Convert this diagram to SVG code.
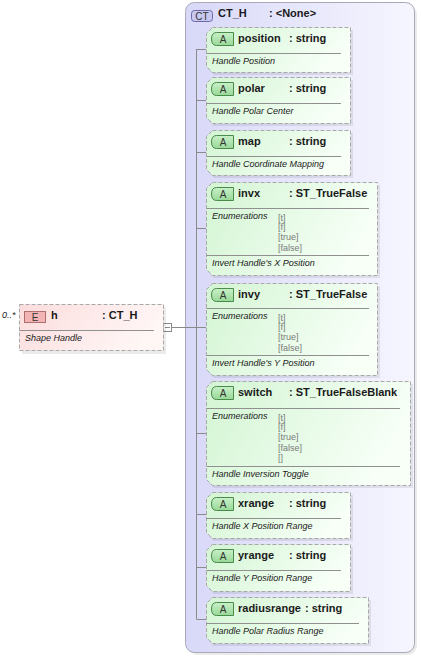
<svg xmlns="http://www.w3.org/2000/svg" width="421" height="656" viewBox="0 0 421 656">
<style>
text{font-family:"Liberation Sans",Arial,sans-serif;fill:#1a1a1a}
.nm{font-size:11px;font-weight:bold}
.ds{font-size:9px;font-style:italic}
.en{font-size:9px;fill:#7a7a7a}
.bd{font-size:10px;fill:#333}
.box{fill:url(#gA);stroke:#a8a8a8;stroke-width:1;stroke-dasharray:4,2}
.sh{fill:#000;opacity:0.08}
.sep{stroke:#909090;stroke-width:1}
.con{stroke:#8a8a8a;stroke-width:1;fill:none}
.ab{fill:url(#gB);stroke:#4a8a4a;stroke-width:1}
</style>
<defs>
<linearGradient id="gA" x1="0" y1="0" x2="1" y2="0.3"><stop offset="0" stop-color="#d3f5d3"/><stop offset="1" stop-color="#f7fff7"/></linearGradient>
<linearGradient id="gB" x1="0" y1="0" x2="0" y2="1"><stop offset="0" stop-color="#c8f0c8"/><stop offset="1" stop-color="#98d898"/></linearGradient>
<linearGradient id="gC" x1="0" y1="0" x2="1" y2="0"><stop offset="0" stop-color="#d8d8f8"/><stop offset="1" stop-color="#f6f6ff"/></linearGradient>
<linearGradient id="gE" x1="0" y1="0" x2="1" y2="0.3"><stop offset="0" stop-color="#fcdcdc"/><stop offset="1" stop-color="#fff6f6"/></linearGradient>
</defs>

<g id="ct">
<rect x="188" y="5" width="229" height="650" rx="9" class="sh"/>
<rect x="185.5" y="2.5" width="229" height="650" rx="9" fill="url(#gC)" stroke="#a8a8b8"/>
<rect x="191.5" y="10.5" width="21" height="11" rx="3" fill="#c8c8f0" stroke="#6a6aa8"/>
<text x="202" y="19.5" class="bd" text-anchor="middle">CT</text>
<text x="218" y="17" class="nm">CT_H</text>
<text x="269" y="17" class="nm">: &lt;None&gt;</text>
</g>

<g id="connectors">
<line x1="196.5" y1="49" x2="196.5" y2="619" class="con"/>
<line x1="196.5" y1="49.5" x2="206" y2="49.5" class="con"/>
<line x1="196.5" y1="100.5" x2="206" y2="100.5" class="con"/>
<line x1="196.5" y1="152.5" x2="206" y2="152.5" class="con"/>
<line x1="196.5" y1="228.5" x2="206" y2="228.5" class="con"/>
<line x1="172" y1="327.5" x2="206" y2="327.5" class="con"/>
<line x1="196.5" y1="433.5" x2="206" y2="433.5" class="con"/>
<line x1="196.5" y1="514.5" x2="206" y2="514.5" class="con"/>
<line x1="196.5" y1="567.5" x2="206" y2="567.5" class="con"/>
<line x1="196.5" y1="619.5" x2="206" y2="619.5" class="con"/>
<rect x="163.5" y="323.5" width="8" height="8" fill="#fff" stroke="#8a8a8a"/>
<line x1="165" y1="327.5" x2="170" y2="327.5" stroke="#8a8a8a"/>
</g>

<g id="h">
<rect x="22" y="307" width="144" height="47" class="sh"/>
<rect x="19.5" y="304.5" width="144" height="46" fill="url(#gE)" stroke="#a8a8a8" stroke-dasharray="4,2"/>
<rect x="24.5" y="311.5" width="21" height="11" fill="#f2b4b4" stroke="#b07070"/>
<text x="35" y="320.5" class="bd" text-anchor="middle">E</text>
<text x="51" y="318.5" class="nm">h</text>
<text x="102" y="318.5" class="nm">: CT_H</text>
<line x1="19.5" y1="330.5" x2="154" y2="330.5" class="sep"/>
<text x="25" y="341" class="ds">Shape Handle</text>
<text x="2" y="318" class="ds">0..*</text>
</g>

<g id="position">
<path d="M214,30 H353 V75 H214 L209,70 V36 Z" class="sh"/>
<path d="M212.5,27.5 H350.5 V72.5 H212.5 L206.5,66.5 V33.5 Z" class="box"/>
<path d="M233.5,32.5 H216.5 Q211.5,32.5 211.5,39 Q211.5,45.5 216.5,45.5 H233.5 Z" class="ab"/>
<text x="223" y="42.5" class="bd" text-anchor="middle">A</text>
<text x="238" y="42" class="nm">position</text>
<text x="289" y="42" class="nm">: string</text>
<line x1="206.5" y1="53.5" x2="341" y2="53.5" class="sep"/>
<text x="212" y="64" class="ds">Handle Position</text>
</g>

<g id="polar">
<path d="M214,80 H353 V126 H214 L209,121 V86 Z" class="sh"/>
<path d="M212.5,77.5 H350.5 V123.5 H212.5 L206.5,117.5 V83.5 Z" class="box"/>
<path d="M233.5,82.5 H216.5 Q211.5,82.5 211.5,89 Q211.5,95.5 216.5,95.5 H233.5 Z" class="ab"/>
<text x="223" y="92.5" class="bd" text-anchor="middle">A</text>
<text x="238" y="92" class="nm">polar</text>
<text x="289" y="92" class="nm">: string</text>
<line x1="206.5" y1="103.5" x2="341" y2="103.5" class="sep"/>
<text x="212" y="114" class="ds">Handle Polar Center</text>
</g>

<g id="map">
<path d="M214,133 H353 V178 H214 L209,173 V139 Z" class="sh"/>
<path d="M212.5,130.5 H350.5 V175.5 H212.5 L206.5,169.5 V136.5 Z" class="box"/>
<path d="M233.5,135.5 H216.5 Q211.5,135.5 211.5,142 Q211.5,148.5 216.5,148.5 H233.5 Z" class="ab"/>
<text x="223" y="145.5" class="bd" text-anchor="middle">A</text>
<text x="238" y="145" class="nm">map</text>
<text x="289" y="145" class="nm">: string</text>
<line x1="206.5" y1="156.5" x2="341" y2="156.5" class="sep"/>
<text x="212" y="167" class="ds">Handle Coordinate Mapping</text>
</g>

<g id="invx">
<path d="M214,185 H380 V278 H214 L209,273 V191 Z" class="sh"/>
<path d="M212.5,182.5 H377.5 V275.5 H212.5 L206.5,269.5 V188.5 Z" class="box"/>
<path d="M233.5,187.5 H216.5 Q211.5,187.5 211.5,194 Q211.5,200.5 216.5,200.5 H233.5 Z" class="ab"/>
<text x="223" y="197.5" class="bd" text-anchor="middle">A</text>
<text x="238" y="197" class="nm">invx</text>
<text x="289" y="197" class="nm">: ST_TrueFalse</text>
<line x1="206.5" y1="208.5" x2="369" y2="208.5" class="sep"/>
<text x="212" y="219" class="ds">Enumerations</text>
<text x="278" y="220.5" class="en">[t]</text>
<text x="278" y="230" class="en">[f]</text>
<text x="278" y="240" class="en">[true]</text>
<text x="278" y="250.5" class="en">[false]</text>
<line x1="206.5" y1="255.5" x2="369" y2="255.5" class="sep"/>
<text x="212" y="266" class="ds">Invert Handle's X Position</text>
</g>

<g id="invy">
<path d="M214,286 H380 V378 H214 L209,373 V292 Z" class="sh"/>
<path d="M212.5,283.5 H377.5 V375.5 H212.5 L206.5,369.5 V289.5 Z" class="box"/>
<path d="M233.5,288.5 H216.5 Q211.5,288.5 211.5,295 Q211.5,301.5 216.5,301.5 H233.5 Z" class="ab"/>
<text x="223" y="298.5" class="bd" text-anchor="middle">A</text>
<text x="238" y="298" class="nm">invy</text>
<text x="289" y="298" class="nm">: ST_TrueFalse</text>
<line x1="206.5" y1="308.5" x2="369" y2="308.5" class="sep"/>
<text x="212" y="319" class="ds">Enumerations</text>
<text x="278" y="320.5" class="en">[t]</text>
<text x="278" y="330" class="en">[f]</text>
<text x="278" y="340" class="en">[true]</text>
<text x="278" y="350.5" class="en">[false]</text>
<line x1="206.5" y1="355.5" x2="369" y2="355.5" class="sep"/>
<text x="212" y="366" class="ds">Invert Handle's Y Position</text>
</g>

<g id="switch">
<path d="M214,384 H413 V488 H214 L209,483 V390 Z" class="sh"/>
<path d="M212.5,381.5 H410.5 V485.5 H212.5 L206.5,479.5 V387.5 Z" class="box"/>
<path d="M233.5,386.5 H216.5 Q211.5,386.5 211.5,393 Q211.5,399.5 216.5,399.5 H233.5 Z" class="ab"/>
<text x="223" y="396.5" class="bd" text-anchor="middle">A</text>
<text x="238" y="396" class="nm">switch</text>
<text x="289" y="396" class="nm">: ST_TrueFalseBlank</text>
<line x1="206.5" y1="408.5" x2="400" y2="408.5" class="sep"/>
<text x="212" y="419" class="ds">Enumerations</text>
<text x="278" y="420.5" class="en">[t]</text>
<text x="278" y="430" class="en">[f]</text>
<text x="278" y="440" class="en">[true]</text>
<text x="278" y="450.5" class="en">[false]</text>
<text x="278" y="460.5" class="en">[]</text>
<line x1="206.5" y1="466.5" x2="400" y2="466.5" class="sep"/>
<text x="212" y="477" class="ds">Handle Inversion Toggle</text>
</g>

<g id="xrange">
<path d="M214,495 H353 V541 H214 L209,536 V501 Z" class="sh"/>
<path d="M212.5,492.5 H350.5 V538.5 H212.5 L206.5,532.5 V498.5 Z" class="box"/>
<path d="M233.5,497.5 H216.5 Q211.5,497.5 211.5,504 Q211.5,510.5 216.5,510.5 H233.5 Z" class="ab"/>
<text x="223" y="507.5" class="bd" text-anchor="middle">A</text>
<text x="238" y="507" class="nm">xrange</text>
<text x="289" y="507" class="nm">: string</text>
<line x1="206.5" y1="518.5" x2="341" y2="518.5" class="sep"/>
<text x="212" y="529" class="ds">Handle X Position Range</text>
</g>

<g id="yrange">
<path d="M214,547 H353 V594 H214 L209,589 V553 Z" class="sh"/>
<path d="M212.5,544.5 H350.5 V591.5 H212.5 L206.5,585.5 V550.5 Z" class="box"/>
<path d="M233.5,549.5 H216.5 Q211.5,549.5 211.5,556 Q211.5,562.5 216.5,562.5 H233.5 Z" class="ab"/>
<text x="223" y="559.5" class="bd" text-anchor="middle">A</text>
<text x="238" y="559" class="nm">yrange</text>
<text x="289" y="559" class="nm">: string</text>
<line x1="206.5" y1="570.5" x2="341" y2="570.5" class="sep"/>
<text x="212" y="581" class="ds">Handle Y Position Range</text>
</g>

<g id="radiusrange">
<path d="M214,600 H371 V646 H214 L209,641 V606 Z" class="sh"/>
<path d="M212.5,597.5 H368.5 V643.5 H212.5 L206.5,637.5 V603.5 Z" class="box"/>
<path d="M233.5,602.5 H216.5 Q211.5,602.5 211.5,609 Q211.5,615.5 216.5,615.5 H233.5 Z" class="ab"/>
<text x="223" y="612.5" class="bd" text-anchor="middle">A</text>
<text x="238" y="612" class="nm">radiusrange</text>
<text x="305" y="612" class="nm">: string</text>
<line x1="206.5" y1="623.5" x2="359" y2="623.5" class="sep"/>
<text x="212" y="634" class="ds">Handle Polar Radius Range</text>
</g>
</svg>
